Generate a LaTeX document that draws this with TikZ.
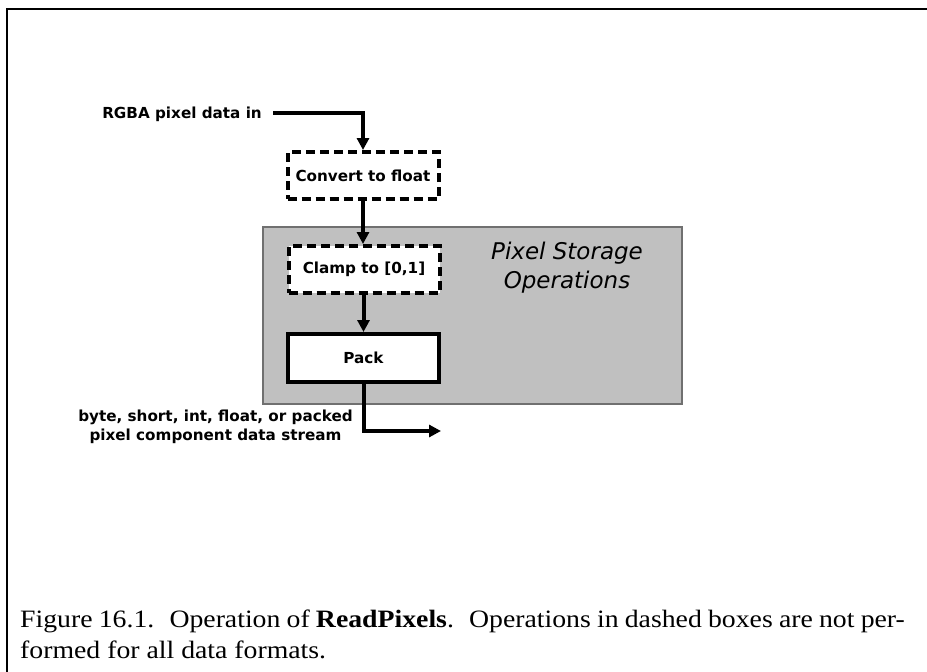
\documentclass[tikz,border=0pt]{standalone}
\usepackage{fontspec}
\setmainfont{Liberation Serif}
\newfontfamily\lblfont{DejaVu Sans}
\usetikzlibrary{arrows.meta}
\definecolor{panelgray}{HTML}{C0C0C0}
\definecolor{panelborder}{HTML}{707070}
\tikzset{
  lbl/.style={font=\lblfont\bfseries\fontsize{15.2}{19}\selectfont, inner sep=0pt},
  opbox/.style={draw=black, line width=4pt, fill=white, minimum width=151pt, minimum height=47pt, inner sep=0pt, font=\lblfont\bfseries\fontsize{15.2}{19}\selectfont},
  dashbox/.style={opbox, dash pattern=on 9pt off 5pt},
  flow/.style={line width=4pt, -{Triangle[length=12pt,width=12pt]}},
  frameline/.style={line width=1.5pt, black},
  captext/.style={anchor=base west, inner sep=0pt, font=\fontsize{25}{31}\selectfont}
}
\begin{document}
\begin{tikzpicture}[x=1pt,y=-1pt]
\useasboundingbox (0,0) rectangle (927,672);
% outer frame (top and left edges)
\draw[frameline] (7,672) -- (7,9) -- (927,9);
% pixel storage panel
\node[draw=panelborder, line width=1.2pt, fill=panelgray, minimum width=419pt, minimum height=177pt, inner sep=0pt] (panel) at (472.5,315.5) {};
\node[font=\lblfont\itshape\fontsize{23}{29}\selectfont, align=center, inner sep=0pt] (ptitle) at (567,268) {Pixel Storage\\Operations};
% boxes
\node[dashbox] (conv) at (363,175.5) {Convert to float};
\node[dashbox] (clamp) at (364,269.5) {Clamp to [0,1]};
\node[opbox, minimum height=48pt] (pack) at (363.5,358) {Pack};
% input
\node[lbl, anchor=base east] (inlbl) at (262,118) {RGBA pixel data in};
\coordinate (instart) at (273,113);
\draw[flow] (instart) -- (instart -| conv.north) -- (conv.north);
\draw[flow] (conv.south) -- (conv.south |- clamp.north);
\draw[flow] (clamp.south -| pack.north) -- (pack.north);
% output
\coordinate (outend) at (441,431);
\draw[flow] (pack.south) -- (pack.south |- outend) -- (outend);
\node[lbl, align=center] (outlbl) at (215.5,427) {byte, short, int, float, or packed\\pixel component data stream};
% caption
\node[captext] (cap1) at (20,627) {\scalebox{1.11}[1]{\makebox[797pt][s]{Figure 16.1. \ Operation of \textbf{ReadPixels}. \ Operations in dashed boxes are not per-}}};
\node[captext] (cap2) at (20,658) {\scalebox{1.11}[1]{formed for all data formats.}};
\end{tikzpicture}
\end{document}
